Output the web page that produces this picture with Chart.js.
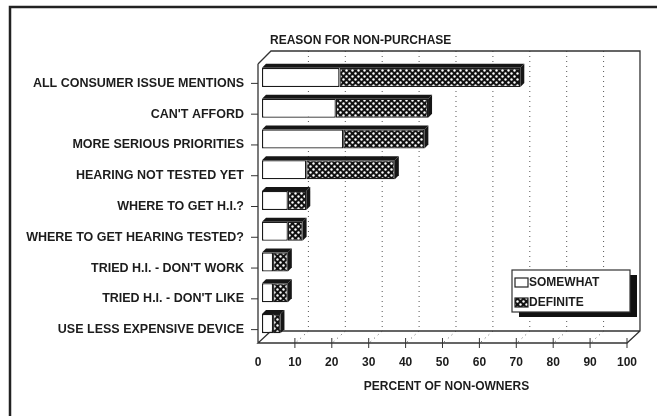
<!DOCTYPE html>
<html>
<head>
<meta charset="utf-8">
<script src="https://cdn.jsdelivr.net/npm/chart.js@4.4.0/dist/chart.umd.min.js"></script>
<style>
    html, body { margin: 0; padding: 0; background: #fff; }
    #contenedor { width: 657px; height: 416px; position: relative; }
</style>
</head>
<body>
<div id="contenedor"><canvas id="graficoDatos"></canvas></div>
<script>
// Datos del gráfico
const razones = [
    'ALL CONSUMER ISSUE MENTIONS',
    "CAN'T AFFORD",
    'MORE SERIOUS PRIORITIES',
    'HEARING NOT TESTED YET',
    'WHERE TO GET H.I.?',
    'WHERE TO GET HEARING TESTED?',
    "TRIED H.I. - DON'T WORK",
    "TRIED H.I. - DON'T LIKE",
    'USE LESS EXPENSIVE DEVICE'
];
const algo = [21, 20, 22, 12, 7, 7, 3, 3, 3];          // SOMEWHAT
const definitivo = [49, 25, 22, 24, 5, 4, 4, 4, 2];    // DEFINITE
const nombresSerie = ['SOMEWHAT', 'DEFINITE'];
const marcasX = [0, 10, 20, 30, 40, 50, 60, 70, 80, 90, 100];
const tituloGrafico = 'REASON FOR NON-PURCHASE';
const tituloEjeX = 'PERCENT OF NON-OWNERS';

const FUENTE = "'Liberation Sans', Arial, sans-serif";
const TINTA = '#1c1c1c';
const PROF = 13;      // profundidad de la caja 3D
const FRENTE = 4;     // distancia del plano de las barras al frente
const CARA = 4;       // grosor de la cara superior de las barras

// Trama de puntos blancos sobre negro para DEFINITE
function crearTrama() {
    const c = document.createElement('canvas');
    c.width = 6; c.height = 6;
    const g = c.getContext('2d');
    g.fillStyle = '#111';
    g.fillRect(0, 0, 6, 6);
    g.fillStyle = '#fff';
    [[1.5, 1.5], [4.5, 4.5]].forEach(([px, py]) => {
        g.beginPath();
        g.arc(px, py, 1.2, 0, Math.PI * 2);
        g.fill();
    });
    return g.createPattern(c, 'repeat');
}
const trama = crearTrama();

const caja3D = {
    id: 'caja3D',
    beforeDatasetsDraw(chart) {
        const { ctx, chartArea, scales: { x, y } } = chart;
        const frente = v => x.getPixelForValue(v) - FRENTE;
        const fondo = v => frente(v) + PROF;
        const sueloF = chartArea.bottom + 4;
        const sueloA = sueloF - 12;
        const techo = chartArea.top - 11;
        ctx.save();
        ctx.lineWidth = 1;
        // lineas punteadas de la pared del fondo y del suelo
        ctx.setLineDash([1, 4]);
        ctx.strokeStyle = '#555';
        marcasX.slice(1, -1).forEach(v => {
            ctx.beginPath();
            ctx.moveTo(fondo(v) + 0.5, techo);
            ctx.lineTo(fondo(v) + 0.5, sueloA);
            ctx.lineTo(frente(v) + 0.5, sueloF);
            ctx.stroke();
        });
        ctx.setLineDash([]);
        // pared del fondo y suelo
        ctx.strokeStyle = '#333';
        ctx.lineWidth = 1.3;
        ctx.beginPath();
        ctx.moveTo(frente(0), chartArea.top + 2);
        ctx.lineTo(fondo(0), techo);
        ctx.lineTo(fondo(100), techo);
        ctx.lineTo(fondo(100), sueloA);
        ctx.lineTo(frente(100), sueloF);
        ctx.lineTo(frente(0), sueloF);
        ctx.lineTo(fondo(0), sueloA);
        ctx.lineTo(fondo(100), sueloA);
        ctx.moveTo(frente(0), chartArea.top + 2);
        ctx.lineTo(frente(0), sueloF);
        ctx.stroke();
        // marcas del eje X en el frente
        ctx.lineWidth = 1;
        marcasX.slice(1).forEach(v => {
            ctx.beginPath();
            ctx.moveTo(frente(v), sueloF - 5);
            ctx.lineTo(frente(v), sueloF + 5);
            ctx.stroke();
        });
        // marcas del eje Y
        razones.forEach((r, i) => {
            const py = y.getPixelForValue(i) + 6;
            ctx.beginPath();
            ctx.moveTo(frente(0) - 7, py);
            ctx.lineTo(frente(0), py);
            ctx.stroke();
        });
        ctx.restore();
    },
    afterDatasetsDraw(chart) {
        const { ctx } = chart;
        const m0 = chart.getDatasetMeta(0);
        const m1 = chart.getDatasetMeta(1);
        ctx.save();
        m1.data.forEach((el, i) => {
            const inicio = m0.data[i].base;
            const fin = el.x;
            const arriba = el.y - el.height / 2;
            const abajo = el.y + el.height / 2;
            ctx.fillStyle = '#161616';
            // cara superior
            ctx.beginPath();
            ctx.moveTo(inicio, arriba);
            ctx.lineTo(inicio + CARA, arriba - CARA);
            ctx.lineTo(fin + CARA, arriba - CARA);
            ctx.lineTo(fin, arriba);
            ctx.closePath();
            ctx.fill();
            // cara lateral
            ctx.beginPath();
            ctx.moveTo(fin, arriba);
            ctx.lineTo(fin + CARA, arriba - CARA);
            ctx.lineTo(fin + CARA, abajo - CARA);
            ctx.lineTo(fin, abajo);
            ctx.closePath();
            ctx.fill();
        });
        ctx.restore();
    },
    afterDraw(chart) {
        const { ctx } = chart;
        ctx.save();
        // marco exterior
        ctx.strokeStyle = '#222';
        ctx.lineWidth = 2.5;
        ctx.beginPath();
        ctx.moveTo(10, 416);
        ctx.lineTo(10, 7);
        ctx.lineTo(657, 7);
        ctx.stroke();
        // titulo
        ctx.fillStyle = TINTA;
        ctx.font = 'bold 12px ' + FUENTE;
        ctx.textBaseline = 'middle';
        ctx.textAlign = 'left';
        ctx.fillText(tituloGrafico, 270, 41);
        // leyenda con sombra
        const lx = 512, ly = 270, lw = 118, lh = 42;
        ctx.fillStyle = '#111';
        ctx.fillRect(lx + 7, ly + 5, lw, lh);
        ctx.fillStyle = '#fff';
        ctx.fillRect(lx, ly, lw, lh);
        ctx.strokeStyle = '#333';
        ctx.lineWidth = 1.2;
        ctx.strokeRect(lx, ly, lw, lh);
        const colores = ['#fff', trama];
        nombresSerie.forEach((n, i) => {
            const sy = ly + 12 + i * 20;
            ctx.fillStyle = colores[i];
            ctx.fillRect(lx + 3, sy - 4, 13, 9);
            ctx.strokeStyle = '#222';
            ctx.strokeRect(lx + 3, sy - 4, 13, 9);
            ctx.fillStyle = TINTA;
            ctx.fillText(n, lx + 17, sy + 1);
        });
        ctx.restore();
    }
};

Chart.defaults.font.family = FUENTE;
Chart.defaults.font.size = 12;
Chart.defaults.font.weight = 'bold';
Chart.defaults.color = TINTA;

const ctx = document.getElementById('graficoDatos').getContext('2d');
const grafico = new Chart(ctx, {
    type: 'bar',
    data: {
        labels: razones,
        datasets: [{
            label: nombresSerie[0],
            data: algo,
            backgroundColor: '#fff',
            borderColor: '#1a1a1a',
            borderWidth: 1.3,
            borderSkipped: false
        },
        {
            label: nombresSerie[1],
            data: definitivo,
            backgroundColor: trama,
            borderColor: '#1a1a1a',
            borderWidth: 1.3,
            borderSkipped: false
        }]
    },
    options: {
        indexAxis: 'y',
        responsive: true,
        maintainAspectRatio: false,
        animation: false,
        barPercentage: 0.62,
        categoryPercentage: 1,
        layout: { padding: { top: 62, right: 26, left: 0, bottom: 0 } },
        plugins: {
            legend: { display: false },
            tooltip: { enabled: false }
        },
        scales: {
            x: {
                stacked: true,
                min: 0,
                max: 100,
                afterBuildTicks: s => { s.ticks = marcasX.map(v => ({ value: v })); },
                afterFit: s => { s.height = 77; },
                grid: { display: false, drawTicks: false },
                border: { display: false },
                ticks: { padding: 16, labelOffset: -FRENTE, color: TINTA },
                title: {
                    display: true,
                    text: tituloEjeX,
                    color: TINTA,
                    padding: { top: 0, bottom: 22 }
                }
            },
            y: {
                stacked: true,
                afterFit: s => { s.width = 262; },
                grid: { display: false, drawTicks: false },
                border: { display: false },
                ticks: { padding: 18, labelOffset: 6, color: TINTA, font: { size: 12.5 } }
            }
        }
    },
    plugins: [caja3D]
});
</script>
</body>
</html>
